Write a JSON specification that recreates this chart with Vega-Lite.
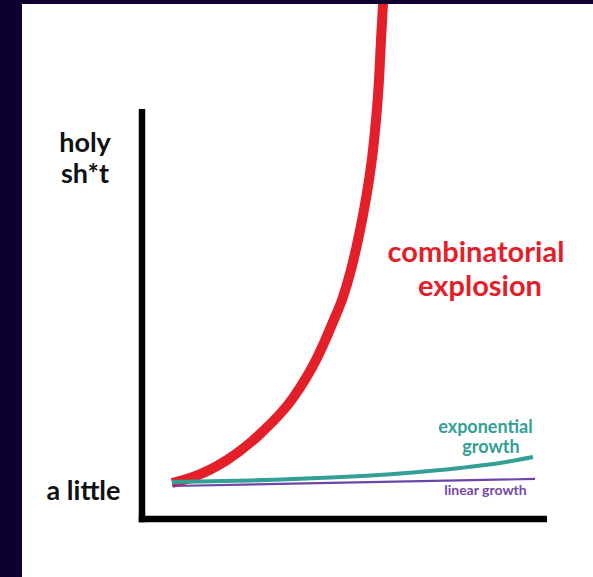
{
  "$schema": "https://vega.github.io/schema/vega-lite/v6.json",
  "width": 593,
  "height": 577,
  "autosize": {"type": "fit", "contains": "padding"},
  "padding": {"left": 22, "top": 4, "right": 0, "bottom": 0},
  "background": "#0e0030",
  "config": {"view": {"stroke": null, "fill": "#ffffff"}},
  "datasets": {
    "curves": [
      {"series": "combinatorial", "t": 0.741, "v": 0.878},
      {"series": "combinatorial", "t": 1.259, "v": 1.024},
      {"series": "combinatorial", "t": 2.099, "v": 1.439},
      {"series": "combinatorial", "t": 2.914, "v": 2.073},
      {"series": "combinatorial", "t": 3.728, "v": 2.951},
      {"series": "combinatorial", "t": 4.321, "v": 3.927},
      {"series": "combinatorial", "t": 4.716, "v": 4.805},
      {"series": "combinatorial", "t": 4.963, "v": 5.415},
      {"series": "combinatorial", "t": 5.16, "v": 6.073},
      {"series": "combinatorial", "t": 5.333, "v": 6.805},
      {"series": "combinatorial", "t": 5.481, "v": 7.537},
      {"series": "combinatorial", "t": 5.605, "v": 8.268},
      {"series": "combinatorial", "t": 5.704, "v": 9.0},
      {"series": "combinatorial", "t": 5.778, "v": 9.732},
      {"series": "combinatorial", "t": 5.852, "v": 10.707},
      {"series": "combinatorial", "t": 5.901, "v": 11.683},
      {"series": "combinatorial", "t": 5.951, "v": 12.561},
      {"series": "combinatorial", "t": 5.975, "v": 13.024},
      {"series": "exponential", "t": 0.741, "v": 0.902},
      {"series": "exponential", "t": 2.667, "v": 0.939},
      {"series": "exponential", "t": 4.642, "v": 1.012},
      {"series": "exponential", "t": 6.37, "v": 1.11},
      {"series": "exponential", "t": 7.852, "v": 1.244},
      {"series": "exponential", "t": 8.84, "v": 1.366},
      {"series": "exponential", "t": 9.654, "v": 1.512},
      {"series": "linear", "t": 0.741, "v": 0.805},
      {"series": "linear", "t": 9.704, "v": 0.976}
    ],
    "axes": [
      {"axis": "y", "x0": 0, "x1": 0, "y0": -0.08, "y1": 10},
      {"axis": "x", "x0": -0.08, "x1": 10, "y0": 0, "y1": 0}
    ],
    "labels": [
      {"group": "big", "text": "holy", "tx": -1.407, "ty": 8.951},
      {"group": "big", "text": "sh*t", "tx": -1.407, "ty": 8.195},
      {"group": "big", "text": "a little", "tx": -1.444, "ty": 0.463},
      {"group": "combinatorial", "text": "combinatorial", "tx": 8.247, "ty": 6.268},
      {"group": "combinatorial", "text": "explosion", "tx": 8.346, "ty": 5.439},
      {"group": "exponential", "text": "exponential", "tx": 8.481, "ty": 2.098},
      {"group": "exponential", "text": "growth", "tx": 8.617, "ty": 1.61},
      {"group": "linear", "text": "linear growth", "tx": 8.481, "ty": 0.585}
    ]
  },
  "layer": [
    {
      "data": {"name": "axes"},
      "mark": {"type": "rule", "color": "#000000", "strokeWidth": 6.5, "strokeCap": "butt"},
      "encoding": {
        "x": {"field": "x0", "type": "quantitative", "scale": {"domain": [-2.963, 11.136], "nice": false, "zero": false}, "axis": null},
        "x2": {"field": "x1"},
        "y": {"field": "y0", "type": "quantitative", "scale": {"domain": [-1.415, 12.561], "nice": false, "zero": false}, "axis": null},
        "y2": {"field": "y1"}
      }
    },
    {
      "data": {"name": "curves"},
      "transform": [{"filter": "datum.series === 'combinatorial'"}],
      "mark": {"type": "line", "color": "#e3202a", "strokeWidth": 10, "interpolate": "monotone", "clip": true, "strokeCap": "butt"},
      "encoding": {
        "x": {"field": "t", "type": "quantitative", "scale": {"domain": [-2.963, 11.136], "nice": false, "zero": false}, "axis": null},
        "y": {"field": "v", "type": "quantitative", "scale": {"domain": [-1.415, 12.561], "nice": false, "zero": false}, "axis": null}
      }
    },
    {
      "data": {"name": "curves"},
      "transform": [{"filter": "datum.series === 'exponential'"}],
      "mark": {"type": "line", "color": "#32a094", "strokeWidth": 4, "interpolate": "monotone", "strokeCap": "butt"},
      "encoding": {
        "x": {"field": "t", "type": "quantitative", "axis": null},
        "y": {"field": "v", "type": "quantitative", "axis": null}
      }
    },
    {
      "data": {"name": "curves"},
      "transform": [{"filter": "datum.series === 'linear'"}],
      "mark": {"type": "line", "color": "#6b45a8", "strokeWidth": 2.2, "strokeCap": "butt"},
      "encoding": {
        "x": {"field": "t", "type": "quantitative", "axis": null},
        "y": {"field": "v", "type": "quantitative", "axis": null}
      }
    },
    {
      "data": {"name": "labels"},
      "transform": [{"filter": "datum.group === 'big'"}],
      "mark": {"type": "text", "font": "Lato", "fontWeight": "bold", "fontSize": 27, "color": "#111111", "align": "center", "baseline": "alphabetic"},
      "encoding": {
        "x": {"field": "tx", "type": "quantitative", "axis": null},
        "y": {"field": "ty", "type": "quantitative", "axis": null},
        "text": {"field": "text"}
      }
    },
    {
      "data": {"name": "labels"},
      "transform": [{"filter": "datum.group === 'combinatorial'"}],
      "mark": {"type": "text", "font": "Lato", "fontWeight": "bold", "fontSize": 29, "color": "#e3202a", "align": "center", "baseline": "alphabetic"},
      "encoding": {
        "x": {"field": "tx", "type": "quantitative", "axis": null},
        "y": {"field": "ty", "type": "quantitative", "axis": null},
        "text": {"field": "text"}
      }
    },
    {
      "data": {"name": "labels"},
      "transform": [{"filter": "datum.group === 'exponential'"}],
      "mark": {"type": "text", "font": "Lato", "fontWeight": "bold", "fontSize": 18, "color": "#32a094", "align": "center", "baseline": "alphabetic"},
      "encoding": {
        "x": {"field": "tx", "type": "quantitative", "axis": null},
        "y": {"field": "ty", "type": "quantitative", "axis": null},
        "text": {"field": "text"}
      }
    },
    {
      "data": {"name": "labels"},
      "transform": [{"filter": "datum.group === 'linear'"}],
      "mark": {"type": "text", "font": "Lato", "fontWeight": "bold", "fontSize": 14, "color": "#7448a8", "align": "center", "baseline": "alphabetic"},
      "encoding": {
        "x": {"field": "tx", "type": "quantitative", "axis": null},
        "y": {"field": "ty", "type": "quantitative", "axis": null},
        "text": {"field": "text"}
      }
    }
  ]
}
